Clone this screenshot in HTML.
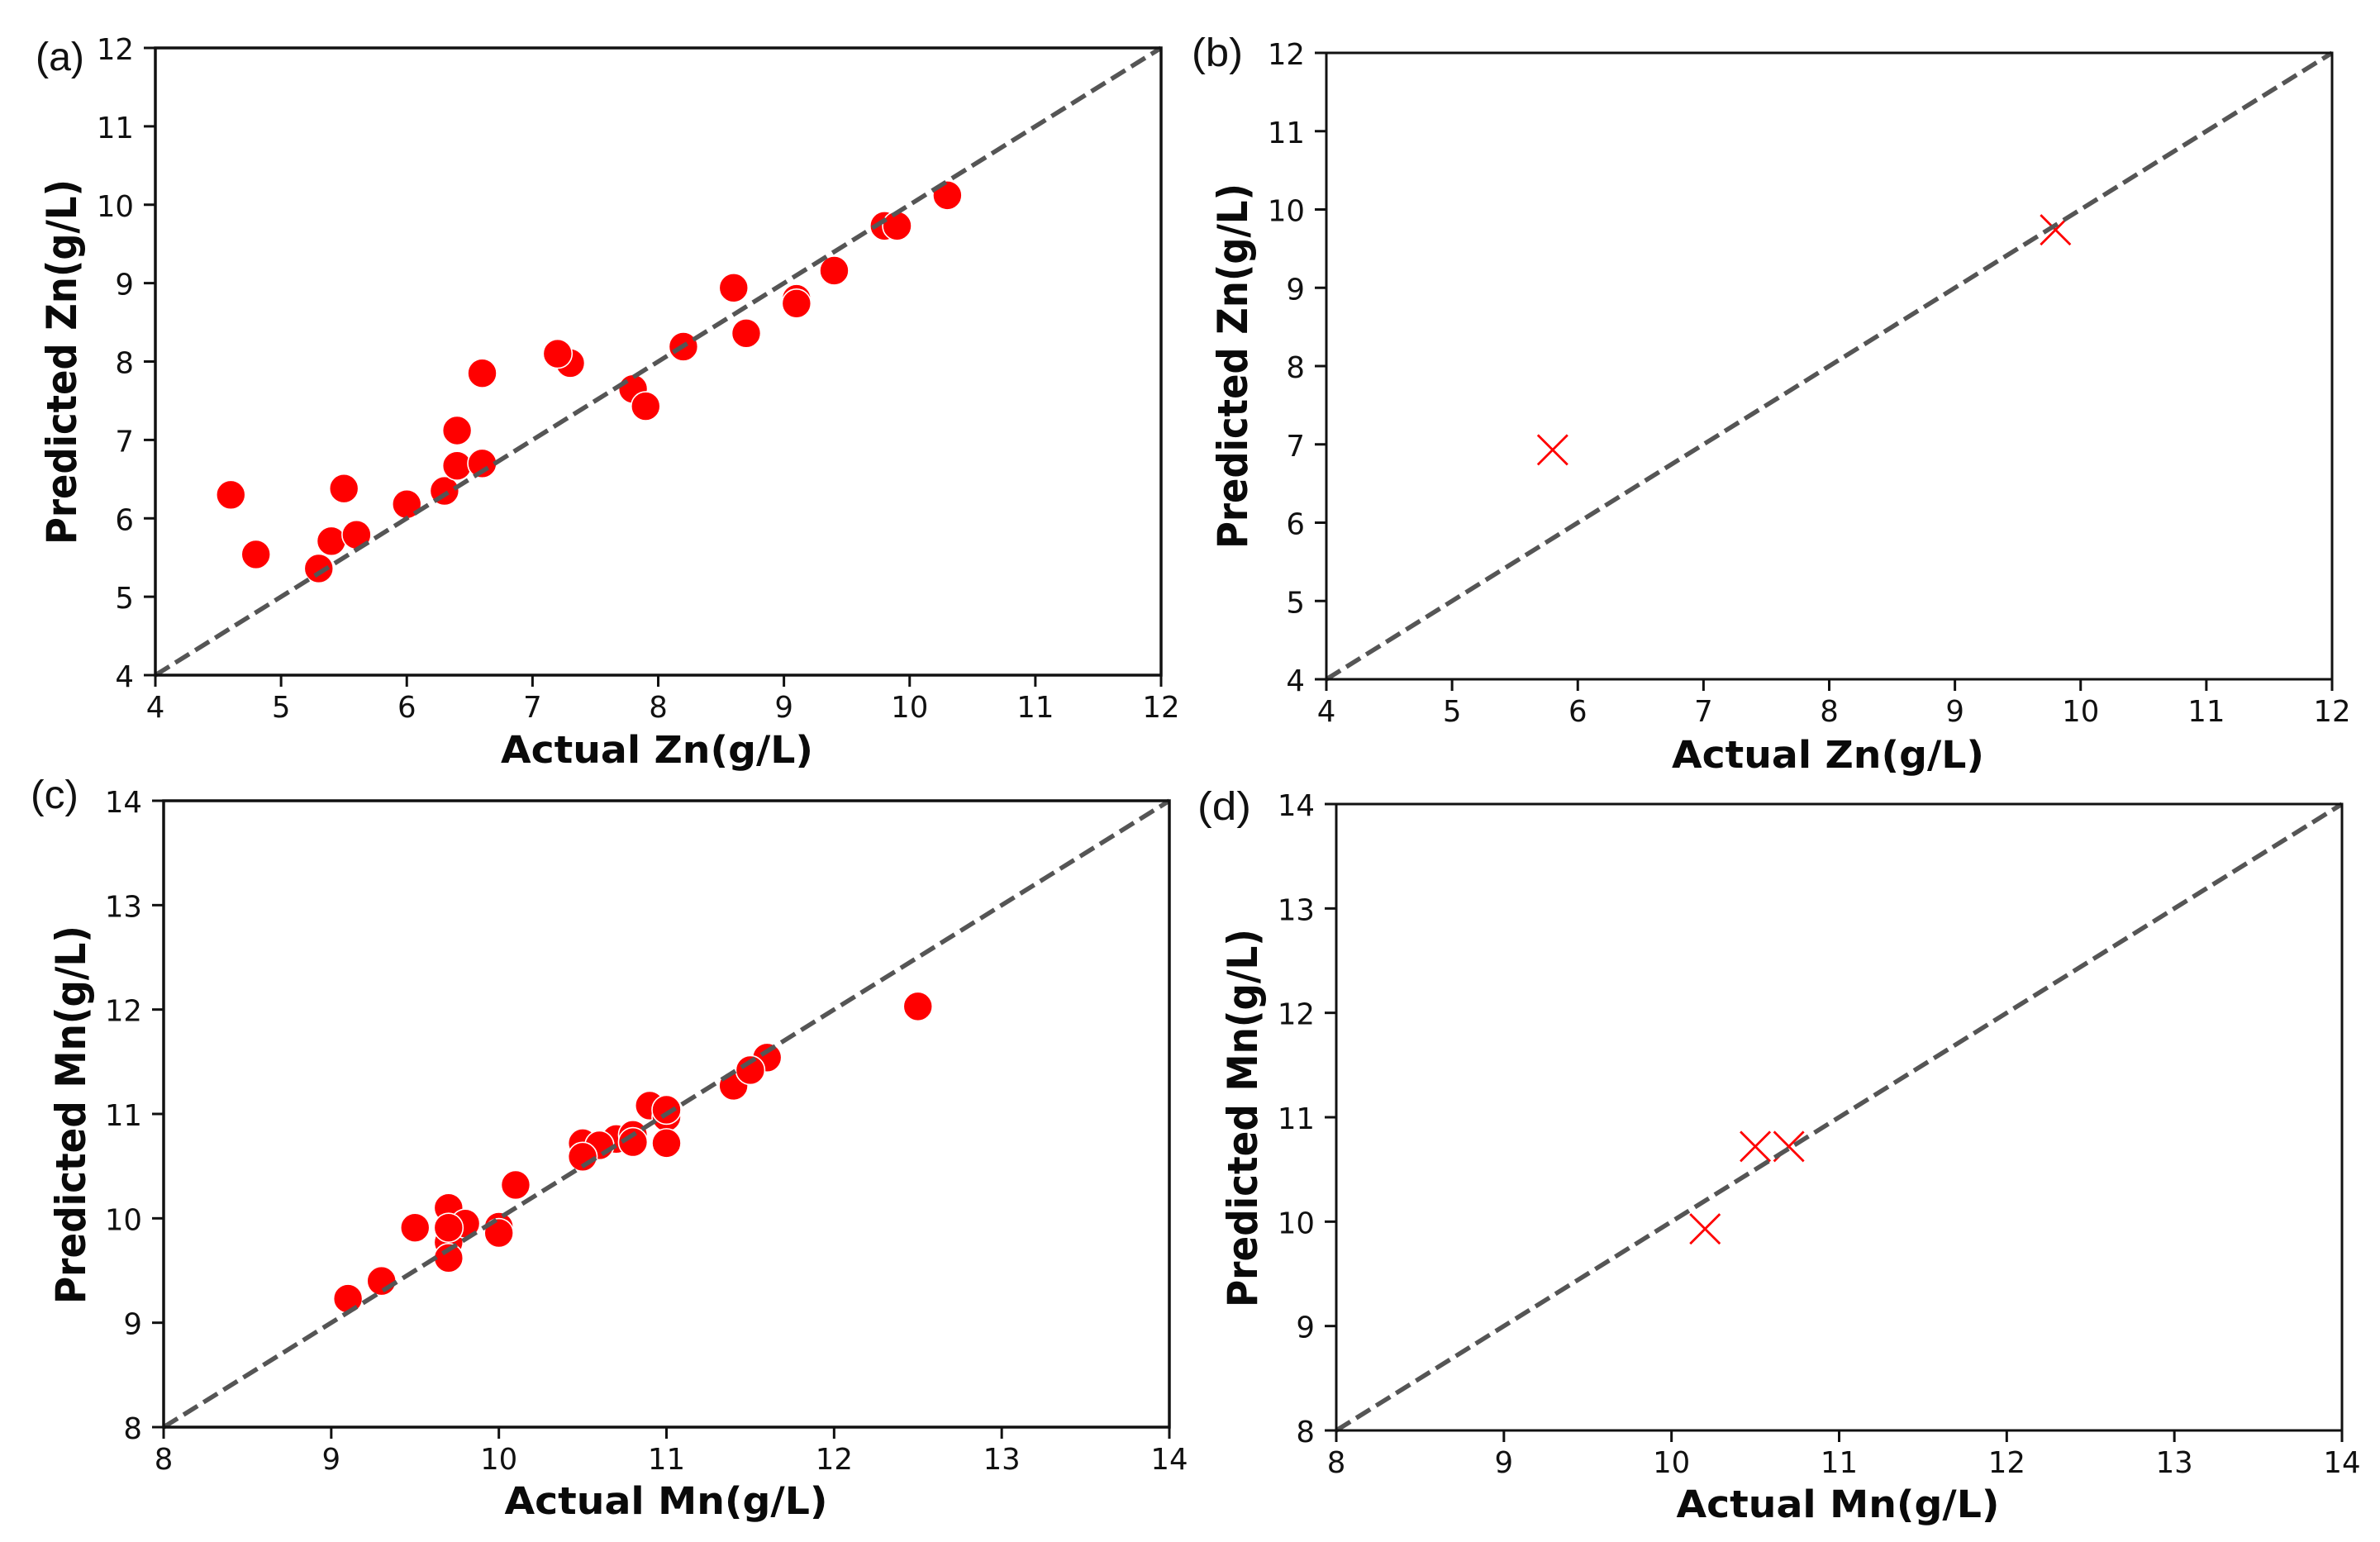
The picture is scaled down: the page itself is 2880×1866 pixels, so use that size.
<!DOCTYPE html>
<html lang="en">
<head>
<meta charset="utf-8">
<title>Actual vs predicted Zn and Mn concentrations</title>
<style>
  html, body { margin: 0; padding: 0; background: #fff; }
  svg { display: block; }
  .tick-label { font-family: "DejaVu Sans", "Liberation Sans", sans-serif; font-size: 35.5px; fill: #111; }
  .axis-title { font-family: "DejaVu Sans", "Liberation Sans", sans-serif; font-weight: bold; font-size: 45px; fill: #0a0a0a; }
  .axis-title-y { font-size: 50px; }
  .panel-tag { font-family: "Liberation Sans", sans-serif; font-size: 48px; fill: #111; }
</style>
</head>
<body>
<svg id="figure" xmlns="http://www.w3.org/2000/svg" width="2880" height="1866" viewBox="0 0 2880 1866">
  <rect width="2880" height="1866" fill="#fff"/>

  <g id="panel-a">
    <text class="panel-tag" x="43" y="85" textLength="59" lengthAdjust="spacingAndGlyphs">(a)</text>
    <text class="axis-title" x="795" y="923" text-anchor="middle" textLength="378" lengthAdjust="spacingAndGlyphs">Actual Zn(g/L)</text>
    <text class="axis-title axis-title-y" transform="translate(92,438) rotate(-90)" text-anchor="middle" textLength="442" lengthAdjust="spacingAndGlyphs">Predicted Zn(g/L)</text>
  </g>

  <g id="panel-b">
    <text class="panel-tag" x="1442" y="80" textLength="62" lengthAdjust="spacingAndGlyphs">(b)</text>
    <text class="axis-title" x="2212" y="929" text-anchor="middle" textLength="378" lengthAdjust="spacingAndGlyphs">Actual Zn(g/L)</text>
    <text class="axis-title axis-title-y" transform="translate(1509,443) rotate(-90)" text-anchor="middle" textLength="442" lengthAdjust="spacingAndGlyphs">Predicted Zn(g/L)</text>
  </g>

  <g id="panel-c">
    <text class="panel-tag" x="37" y="978" textLength="58" lengthAdjust="spacingAndGlyphs">(c)</text>
    <text class="axis-title" x="806" y="1832" text-anchor="middle" textLength="391" lengthAdjust="spacingAndGlyphs">Actual Mn(g/L)</text>
    <text class="axis-title axis-title-y" transform="translate(103,1349) rotate(-90)" text-anchor="middle" textLength="458" lengthAdjust="spacingAndGlyphs">Predicted Mn(g/L)</text>
  </g>

  <g id="panel-d">
    <text class="panel-tag" x="1449" y="992" textLength="65" lengthAdjust="spacingAndGlyphs">(d)</text>
    <text class="axis-title" x="2224" y="1836" text-anchor="middle" textLength="391" lengthAdjust="spacingAndGlyphs">Actual Mn(g/L)</text>
    <text class="axis-title axis-title-y" transform="translate(1521,1353) rotate(-90)" text-anchor="middle" textLength="458" lengthAdjust="spacingAndGlyphs">Predicted Mn(g/L)</text>
  </g>
</svg>

<script>
// ---- Chart data ----
const znTickLabels = [4, 5, 6, 7, 8, 9, 10, 11, 12];
const mnTickLabels = [8, 9, 10, 11, 12, 13, 14];

const panelAActual = [4.6, 4.8, 5.3, 5.4, 5.5, 5.6, 6.0, 6.3, 6.4, 6.4, 6.6, 6.6, 7.3, 7.2, 7.8, 7.9, 8.2, 8.6, 8.7, 9.1, 9.1, 9.4, 9.8, 9.9, 10.3];
const panelAPredicted = [6.30, 5.54, 5.36, 5.71, 6.38, 5.79, 6.18, 6.35, 6.67, 7.12, 6.70, 7.85, 7.98, 8.10, 7.65, 7.43, 8.19, 8.94, 8.36, 8.80, 8.74, 9.16, 9.73, 9.73, 10.12];

const panelBActual = [5.8, 9.8];
const panelBPredicted = [6.93, 9.74];

const panelCActual = [9.1, 9.3, 9.5, 9.7, 9.7, 9.8, 9.7, 9.7, 10.0, 10.0, 10.1, 10.5, 10.7, 10.6, 10.5, 10.8, 10.8, 10.9, 11.0, 11.0, 11.0, 11.4, 11.6, 11.5, 12.5];
const panelCPredicted = [9.23, 9.40, 9.91, 10.10, 9.77, 9.95, 9.91, 9.62, 9.92, 9.86, 10.32, 10.72, 10.76, 10.70, 10.59, 10.80, 10.73, 11.08, 10.97, 11.04, 10.72, 11.27, 11.54, 11.42, 12.03];

const panelDActual = [10.2, 10.5, 10.7];
const panelDPredicted = [9.93, 10.72, 10.72];

// ---- Drawing ----
const SVG_NS = 'http://www.w3.org/2000/svg';

function make(tag, attrs, parent) {
  const el = document.createElementNS(SVG_NS, tag);
  Object.keys(attrs).forEach(function (k) { el.setAttribute(k, attrs[k]); });
  parent.appendChild(el);
  return el;
}

function drawPanel(cfg) {
  const root = document.getElementById(cfg.id);
  const box = cfg.box;
  const lo = cfg.ticks[0];
  const hi = cfg.ticks[cfg.ticks.length - 1];
  const xScale = function (v) { return box.left + (v - lo) / (hi - lo) * (box.right - box.left); };
  const yScale = function (v) { return box.bottom - (v - lo) / (hi - lo) * (box.bottom - box.top); };

  // markers
  cfg.actual.forEach(function (a, i) {
    const px = xScale(a);
    const py = yScale(cfg.predicted[i]);
    if (cfg.marker === 'circle') {
      const dot = make('circle', { cx: px, cy: py, r: 17.5, fill: '#ff0000', stroke: '#ffffff', 'stroke-width': 1.6 }, root);
      
      
    } else {
      const s = 18;
      const cross = make('path', {
        d: 'M' + (px - s) + ' ' + (py - s) + 'L' + (px + s) + ' ' + (py + s) + 'M' + (px - s) + ' ' + (py + s) + 'L' + (px + s) + ' ' + (py - s),
        fill: 'none', stroke: '#ff0000', 'stroke-width': 2.8
      }, root);
      
      
    }
  });

  // identity reference line
  const refLine = make('line', {
    x1: xScale(lo), y1: yScale(lo), x2: xScale(hi), y2: yScale(hi),
    stroke: '#555555', 'stroke-width': 5.5, 'stroke-dasharray': '20 8.4'
  }, root);
  
  

  // plot frame
  const frame = make('rect', {
    x: box.left, y: box.top, width: box.right - box.left, height: box.bottom - box.top,
    fill: 'none', stroke: '#111111', 'stroke-width': cfg.frameWidth
  }, root);
  
  

  // ticks + tick labels
  cfg.ticks.forEach(function (t) {
    const tx = xScale(t);
    const ty = yScale(t);

    const xTick = make('line', { x1: tx, y1: box.bottom, x2: tx, y2: box.bottom + 14, stroke: '#111111', 'stroke-width': 3 }, root);
    
    

    const yTick = make('line', { x1: box.left - 14, y1: ty, x2: box.left, y2: ty, stroke: '#111111', 'stroke-width': 3 }, root);
    
    

    const xLabel = make('text', {
      class: 'tick-label', 'text-anchor': 'middle', x: tx, y: box.bottom + 51
    }, root);
    xLabel.textContent = String(t);
    
    

    const yLabel = make('text', {
      class: 'tick-label', 'text-anchor': 'end', x: box.left - 26, y: ty + 14
    }, root);
    yLabel.textContent = String(t);
    
    
  });
}

drawPanel({ id: 'panel-a', marker: 'circle', ticks: znTickLabels, actual: panelAActual, predicted: panelAPredicted,
  frameWidth: 3.5, box: { left: 188, right: 1405, top: 58, bottom: 817 } });
drawPanel({ id: 'panel-b', marker: 'cross', ticks: znTickLabels, actual: panelBActual, predicted: panelBPredicted,
  frameWidth: 3, box: { left: 1605, right: 2822, top: 64, bottom: 822 } });
drawPanel({ id: 'panel-c', marker: 'circle', ticks: mnTickLabels, actual: panelCActual, predicted: panelCPredicted,
  frameWidth: 3.5, box: { left: 198, right: 1415, top: 969, bottom: 1727 } });
drawPanel({ id: 'panel-d', marker: 'cross', ticks: mnTickLabels, actual: panelDActual, predicted: panelDPredicted,
  frameWidth: 3, box: { left: 1617, right: 2834, top: 973, bottom: 1731 } });
</script>
</body>
</html>
